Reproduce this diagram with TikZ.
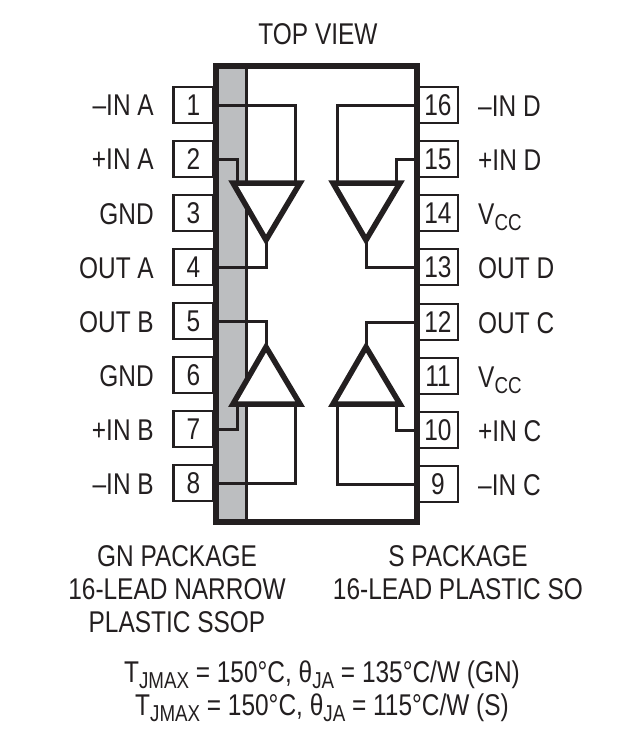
\documentclass[tikz,border=0pt]{standalone}
\usepackage{fontspec}
\setmainfont[FakeStretch=0.815]{Liberation Sans}
\usepackage{tikz}
\usetikzlibrary{positioning}
\definecolor{inkc}{HTML}{231F20}
\definecolor{stripc}{HTML}{BCBEC0}
\newcommand{\lowtext}[1]{\raisebox{-6pt}{\fontsize{23}{26}\selectfont #1}}
\tikzset{
  every node/.style={text=inkc, font=\fontsize{30}{33}\selectfont, inner sep=0pt},
  pinbox/.style={draw=inkc, fill=white, line width=2.4pt, minimum width=40pt, minimum height=36pt},
  wire/.style={draw=inkc, line width=3pt, line join=miter},
  amp/.style={draw=inkc, fill=white, line width=5.5pt, line join=miter},
  leftlabel/.style={anchor=base east},
  rightlabel/.style={anchor=base west},
  note/.style={align=center}
}
\begin{document}
\begin{tikzpicture}[x=1pt, y=-1pt]
      \useasboundingbox (0, 0) rectangle (635, 737);

      % Package
      \node[fill=stripc, minimum width=28pt, minimum height=452pt] (strip) at (232, 293.5) {};
      \coordinate (stript) at (246, 67);
      \coordinate (stripb) at (246, 520);

      % Pins
      \node[pinbox] (p1) at (193.5, 105) {1};
      \node[pinbox] (p2) at (193.5, 159) {2};
      \node[pinbox] (p3) at (193.5, 213) {3};
      \node[pinbox] (p4) at (193.5, 267) {4};
      \node[pinbox] (p5) at (193.5, 321) {5};
      \node[pinbox] (p6) at (193.5, 375) {6};
      \node[pinbox] (p7) at (193.5, 429) {7};
      \node[pinbox] (p8) at (193.5, 483) {8};
      \node[pinbox] (p9) at (438, 484) {9};
      \node[pinbox] (p10) at (438, 430) {10};
      \node[pinbox] (p11) at (438, 376) {11};
      \node[pinbox] (p12) at (438, 322) {12};
      \node[pinbox] (p13) at (438, 267) {13};
      \node[pinbox] (p14) at (438, 213) {14};
      \node[pinbox] (p15) at (438, 159) {15};
      \node[pinbox] (p16) at (438, 105) {16};

      % Pin labels
      \node[leftlabel] (l1) at (154, 115) {–IN A};
      \node[leftlabel] (l2) at (154, 169) {+IN A};
      \node[leftlabel] (l3) at (154, 224) {GND};
      \node[leftlabel] (l4) at (154, 278) {OUT A};
      \node[leftlabel] (l5) at (154, 332) {OUT B};
      \node[leftlabel] (l6) at (154, 386) {GND};
      \node[leftlabel] (l7) at (154, 440) {+IN B};
      \node[leftlabel] (l8) at (154, 494) {–IN B};
      \node[rightlabel] (l16) at (478, 116) {–IN D};
      \node[rightlabel] (l15) at (478, 170) {+IN D};
      \node[rightlabel] (l14) at (478, 224) {V\lowtext{CC}};
      \node[rightlabel] (l13) at (478, 278) {OUT D};
      \node[rightlabel] (l12) at (478, 333) {OUT C};
      \node[rightlabel] (l11) at (478, 387) {V\lowtext{CC}};
      \node[rightlabel] (l10) at (478, 441) {+IN C};
      \node[rightlabel] (l9) at (478, 495) {–IN C};

      % Amplifier points
      \coordinate (aleft) at (233, 183);
      \coordinate (aright) at (300, 183);
      \coordinate (atip) at (266, 240);
      \coordinate (ain1) at (295, 183);
      \coordinate (ain2) at (237, 183);
      \coordinate (bleft) at (233, 404);
      \coordinate (bright) at (300, 404);
      \coordinate (btip) at (266, 347);
      \coordinate (bin1) at (295, 404);
      \coordinate (bin2) at (237, 404);
      \coordinate (cleft) at (333, 404);
      \coordinate (cright) at (400, 404);
      \coordinate (ctip) at (366, 347);
      \coordinate (cin1) at (337, 404);
      \coordinate (cin2) at (396, 404);
      \coordinate (dleft) at (333, 183);
      \coordinate (dright) at (400, 183);
      \coordinate (dtip) at (366, 240);
      \coordinate (din1) at (337, 183);
      \coordinate (din2) at (396, 183);

      % Strip edge
      \draw[wire] (stript) -- (stripb);

      % Edges
      \draw[wire] (p1.east) -| (ain1);
      \draw[wire] (p2.east) -| (ain2);
      \draw[wire] (atip) |- (p4.east);
      \draw[wire] (btip) |- (p5.east);
      \draw[wire] (p7.east) -| (bin2);
      \draw[wire] (p8.east) -| (bin1);
      \draw[wire] (p9.west) -| (cin1);
      \draw[wire] (p10.west) -| (cin2);
      \draw[wire] (ctip) |- (p12.west);
      \draw[wire] (dtip) |- (p13.west);
      \draw[wire] (p15.west) -| (din2);
      \draw[wire] (p16.west) -| (din1);

      % Amplifiers
      \draw[amp] (aleft) -- (aright) -- (atip) -- cycle;
      \draw[amp] (bleft) -- (bright) -- (btip) -- cycle;
      \draw[amp] (cleft) -- (cright) -- (ctip) -- cycle;
      \draw[amp] (dleft) -- (dright) -- (dtip) -- cycle;

      % Package outline
      \node[draw=inkc, line width=6pt, minimum width=201pt, minimum height=456pt] (pkg) at (316, 293.5) {};

      % Notes
      \node (top) at (318, 34) {TOP VIEW};
      \node[note] (gn) at (177, 589) {GN PACKAGE\\16-LEAD NARROW\\PLASTIC SSOP};
      \node[note] (so) at (458, 572.5) {S PACKAGE\\16-LEAD PLASTIC SO};
      \node[note] (temp) at (322, 691) {T\lowtext{JMAX} = 150°C, θ\lowtext{JA} = 135°C/W (GN)\\T\lowtext{JMAX} = 150°C, θ\lowtext{JA} = 115°C/W (S)};

    \end{tikzpicture}
\end{document}
